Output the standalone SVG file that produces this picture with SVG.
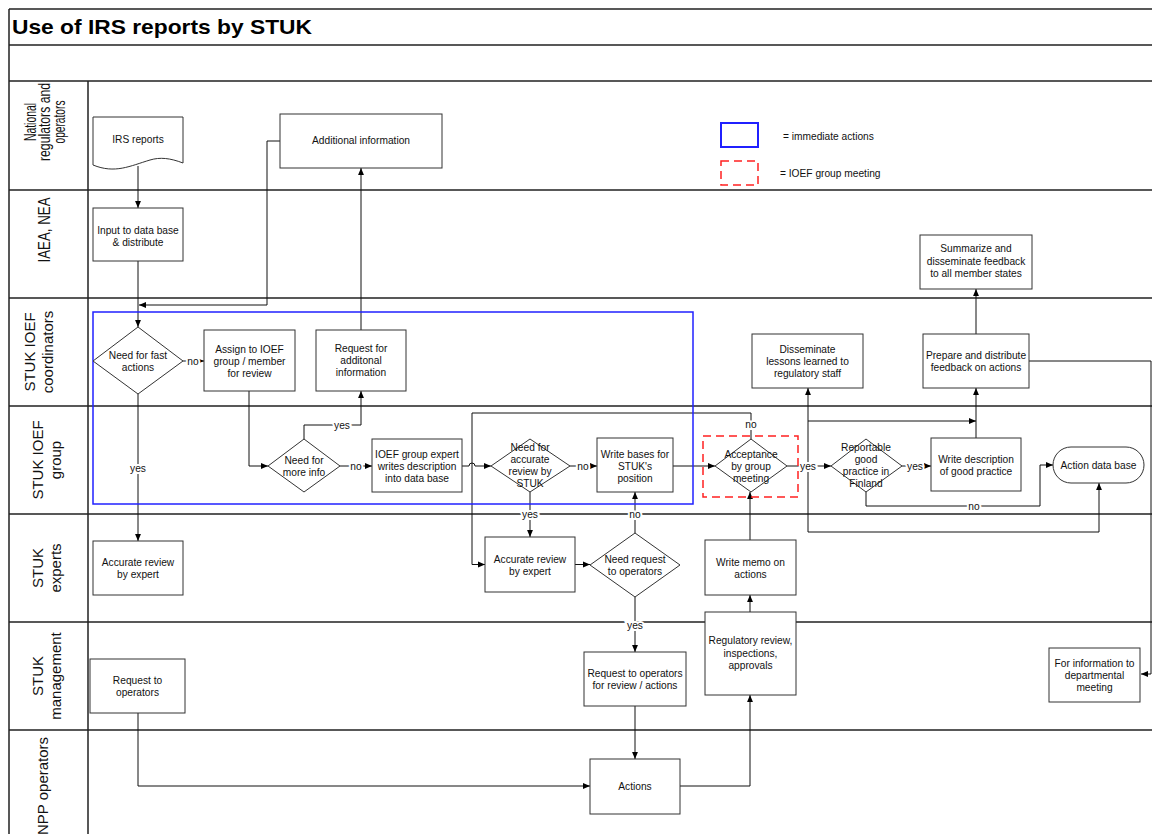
<svg xmlns="http://www.w3.org/2000/svg" width="1152" height="834" viewBox="0 0 1152 834">
<defs>
<marker id="arr" viewBox="0 0 10 10" refX="10" refY="5" markerWidth="7" markerHeight="7" orient="auto" markerUnits="userSpaceOnUse">
<path d="M0,0.8 L10,5 L0,9.2 Z" fill="#000"/>
</marker>
<style>
.ln{stroke:#222;stroke-width:1.5;fill:none}
.box{fill:#fff;stroke:#333;stroke-width:1}
.t{font-family:"Liberation Sans",Arial,sans-serif;font-size:10.2px;text-anchor:middle;fill:#111}
.c{fill:none;stroke:#111;stroke-width:1;marker-end:url(#arr)}
.lbl{font-family:"Liberation Sans",Arial,sans-serif;font-size:10.2px;text-anchor:middle;fill:#111;stroke:#fff;stroke-width:4;paint-order:stroke}
.hd{font-family:"Liberation Sans",Arial,sans-serif;font-size:15px;text-anchor:middle;fill:#111}
</style>
</defs>
<rect width="1152" height="834" fill="#fff"/>
<g id="frame">
<path class="ln" d="M9,9 H1152 M9,45 H1152 M9,81 H1152 M9,190 H1152 M9,298 H1152 M9,406 H1152 M9,514 H1152 M9,622 H1152 M9,730 H1152 M9,9 V834 M88,81 V834"/>
<text x="12" y="34" font-family="Liberation Sans, Arial, sans-serif" font-size="21" font-weight="bold" fill="#000" textLength="300" lengthAdjust="spacingAndGlyphs">Use of IRS reports by STUK</text>
</g>
<g id="lanes">
<g transform="translate(0,122) rotate(-90)">
<text class="hd" x="0" y="35.5" style="font-size:16px" textLength="38" lengthAdjust="spacingAndGlyphs">National</text>
<text class="hd" x="0" y="50" style="font-size:16px" textLength="78" lengthAdjust="spacingAndGlyphs">regulators and</text>
<text class="hd" x="0" y="65" style="font-size:16px" textLength="43" lengthAdjust="spacingAndGlyphs">operators</text>
</g>
<g transform="translate(0,230) rotate(-90)"><text class="hd" x="0" y="50" style="font-size:16px" textLength="65" lengthAdjust="spacingAndGlyphs">IAEA, NEA</text></g>
<g transform="translate(0,352) rotate(-90)"><text class="hd" x="0" y="35">STUK IOEF</text><text class="hd" x="0" y="53">coordinators</text></g>
<g transform="translate(0,460) rotate(-90)"><text class="hd" x="0" y="43">STUK IOEF</text><text class="hd" x="0" y="61">group</text></g>
<g transform="translate(0,568) rotate(-90)"><text class="hd" x="0" y="43">STUK</text><text class="hd" x="0" y="61">experts</text></g>
<g transform="translate(0,676) rotate(-90)"><text class="hd" x="0" y="43">STUK</text><text class="hd" x="0" y="61">management</text></g>
<g transform="translate(0,786) rotate(-90)"><text class="hd" x="0" y="48">NPP operators</text></g>
</g>
<g id="legend">
<rect x="721" y="123" width="37" height="24" fill="none" stroke="#2020ff" stroke-width="2"/>
<text class="t" x="783" y="139.5" style="text-anchor:start">=  immediate actions</text>
<rect x="721" y="161" width="37" height="24" fill="none" stroke="#ff2020" stroke-width="1.5" stroke-dasharray="8,5"/>
<text class="t" x="780" y="176.5" style="text-anchor:start">= IOEF group meeting</text>
</g>
<g id="connectors">
<path class="c" d="M138,166 V208"/>
<path class="c" d="M138,261 V327"/>
<path class="c" d="M280,141 H267 V305 H139"/>
<path class="c" d="M183,361 H204"/>
<path class="c" d="M138,394 V541"/>
<path class="c" d="M249,391 V466 H268"/>
<path class="c" d="M304,439 V425 H361 V391"/>
<path class="c" d="M361,330 V168"/>
<path class="c" d="M340,466 H372"/>
<path class="c" d="M462,466 H469 a3,3 0 0 1 6,0 H491"/>
<path class="c" d="M570,466 H597"/>
<path class="c" d="M530,492 V537"/>
<path class="c" d="M575,564.5 H590"/>
<path class="c" d="M635,533 V492"/>
<path class="c" d="M635,597 V652"/>
<path class="c" d="M635,706 V759"/>
<path class="c" d="M138,713 V786 H590"/>
<path class="c" d="M680,786 H750 V695"/>
<path class="c" d="M750,612 V595"/>
<path class="c" d="M750,540 V492"/>
<path class="c" d="M673,466 H715"/>
<path class="c" d="M751,439 V413 H472 V564.5 H485"/>
<path class="c" d="M787,466 H831"/>
<path class="c" d="M808,466 V388"/>
<path class="c" d="M808,421 H976"/>
<path class="c" d="M808,466 V532 H1099 V483"/>
<path class="c" d="M902,466 H931"/>
<path class="c" d="M866,492 V506 H1040 V465 H1053"/>
<path class="c" d="M976,438 V388"/>
<path class="c" d="M976,334 V289"/>
<path class="c" d="M1029,361 H1151 V674 H1141"/>
<text class="lbl" x="193" y="364.5">no</text>
<text class="lbl" x="138" y="471.5">yes</text>
<text class="lbl" x="342" y="428.5">yes</text>
<text class="lbl" x="356" y="469.5">no</text>
<text class="lbl" x="583" y="469.5">no</text>
<text class="lbl" x="530" y="517.5">yes</text>
<text class="lbl" x="635" y="517.5">no</text>
<text class="lbl" x="635" y="628.5">yes</text>
<text class="lbl" x="751" y="427.5">no</text>
<text class="lbl" x="808" y="469.5">yes</text>
<text class="lbl" x="915" y="469.5">yes</text>
<text class="lbl" x="974" y="509.5">no</text>
</g>
<rect id="immediate-actions" x="93" y="312" width="600" height="192" fill="none" stroke="#2020ff" stroke-width="1.5"/>
<rect id="group-meeting" x="703" y="436" width="95" height="61" fill="none" stroke="#ff2020" stroke-width="1.5" stroke-dasharray="8,5"/>
<g id="irs-reports"><path class="box" d="M93,117 H183 V163 C170,158 160,157 150,160 C130,166 115,174 93,165 Z"/><text class="t" x="138" y="143">IRS reports</text></g>
<g id="additional-info"><rect class="box" x="280" y="114" width="162" height="54"/><text class="t" x="361" y="144">Additional information</text></g>
<g id="input-db"><rect class="box" x="93" y="208" width="90" height="53"/><text class="t" x="138" y="233.5">Input to data base</text><text class="t" x="138" y="245.5">&amp; distribute</text></g>
<g id="summarize"><rect class="box" x="920" y="235" width="112" height="54"/><text class="t" x="976" y="252">Summarize and</text><text class="t" x="976" y="264.5">disseminate feedback</text><text class="t" x="976" y="277">to all member states</text></g>
<g id="need-fast"><polygon class="box" points="138,327 183,361 138,394 93,361"/><text class="t" x="138" y="358.5">Need for fast</text><text class="t" x="138" y="370.5">actions</text></g>
<g id="assign"><rect class="box" x="204" y="330" width="91" height="61"/><text class="t" x="249.5" y="353">Assign to IOEF</text><text class="t" x="249.5" y="365">group / member</text><text class="t" x="249.5" y="377">for review</text></g>
<g id="request-info"><rect class="box" x="316" y="330" width="90" height="61"/><text class="t" x="361" y="352">Request for</text><text class="t" x="361" y="364">additonal</text><text class="t" x="361" y="376">information</text></g>
<g id="need-more"><polygon class="box" points="304,439 340,466 304,492 268,466"/><text class="t" x="304" y="463.5">Need for</text><text class="t" x="304" y="475.5">more info</text></g>
<g id="ioef-expert"><rect class="box" x="372" y="439" width="90" height="53"/><text class="t" x="417" y="458">IOEF group expert</text><text class="t" x="417" y="470">writes description</text><text class="t" x="417" y="482">into data base</text></g>
<g id="need-accurate"><polygon class="box" points="530,439 570,466 530,492 491,466"/><text class="t" x="530" y="451">Need for</text><text class="t" x="530" y="463">accurate</text><text class="t" x="530" y="475">review by</text><text class="t" x="530" y="487">STUK</text></g>
<g id="write-bases"><rect class="box" x="597" y="438" width="76" height="54"/><text class="t" x="635" y="458">Write bases for</text><text class="t" x="635" y="470">STUK's</text><text class="t" x="635" y="482">position</text></g>
<g id="acceptance"><polygon class="box" points="751,439 787,466 751,492 715,466"/><text class="t" x="751" y="458">Acceptance</text><text class="t" x="751" y="470">by group</text><text class="t" x="751" y="482">meeting</text></g>
<g id="disseminate"><rect class="box" x="752" y="334" width="111" height="54"/><text class="t" x="807.5" y="353">Disseminate</text><text class="t" x="807.5" y="365">lessons learned to</text><text class="t" x="807.5" y="377">regulatory staff</text></g>
<g id="reportable"><polygon class="box" points="866,439 902,466 866,492 831,466"/><text class="t" x="866" y="451">Reportable</text><text class="t" x="866" y="463">good</text><text class="t" x="866" y="475">practice in</text><text class="t" x="866" y="487">Finland</text></g>
<g id="write-desc"><rect class="box" x="931" y="438" width="90" height="53"/><text class="t" x="976" y="463">Write description</text><text class="t" x="976" y="475">of good practice</text></g>
<g id="prepare"><rect class="box" x="923" y="334" width="106" height="54"/><text class="t" x="976" y="359">Prepare and distribute</text><text class="t" x="976" y="371">feedback on actions</text></g>
<g id="action-db"><rect class="box" x="1053" y="447" width="91" height="36" rx="18"/><text class="t" x="1098.5" y="469">Action data base</text></g>
<g id="review-left"><rect class="box" x="93" y="541" width="90" height="54"/><text class="t" x="138" y="566">Accurate review</text><text class="t" x="138" y="578">by expert</text></g>
<g id="request-left"><rect class="box" x="90" y="659" width="95" height="54"/><text class="t" x="137.5" y="684">Request to</text><text class="t" x="137.5" y="696">operators</text></g>
<g id="review-mid"><rect class="box" x="485" y="537" width="90" height="55"/><text class="t" x="530" y="563">Accurate review</text><text class="t" x="530" y="575">by expert</text></g>
<g id="need-request"><polygon class="box" points="635,533 680,565 635,597 590,565"/><text class="t" x="635" y="563">Need request</text><text class="t" x="635" y="575">to operators</text></g>
<g id="request-review"><rect class="box" x="584" y="652" width="102" height="54"/><text class="t" x="635" y="677">Request to operators</text><text class="t" x="635" y="689">for review / actions</text></g>
<g id="actions"><rect class="box" x="590" y="759" width="90" height="55"/><text class="t" x="635" y="790">Actions</text></g>
<g id="regulatory"><rect class="box" x="705" y="612" width="91" height="83"/><text class="t" x="750.5" y="644">Regulatory review,</text><text class="t" x="750.5" y="657">inspections,</text><text class="t" x="750.5" y="669">approvals</text></g>
<g id="write-memo"><rect class="box" x="705" y="540" width="91" height="55"/><text class="t" x="750.5" y="566">Write memo on</text><text class="t" x="750.5" y="578">actions</text></g>
<g id="for-info"><rect class="box" x="1049" y="648" width="91" height="54"/><text class="t" x="1094.5" y="667">For information to</text><text class="t" x="1094.5" y="679">departmental</text><text class="t" x="1094.5" y="691">meeting</text></g>
</svg>
